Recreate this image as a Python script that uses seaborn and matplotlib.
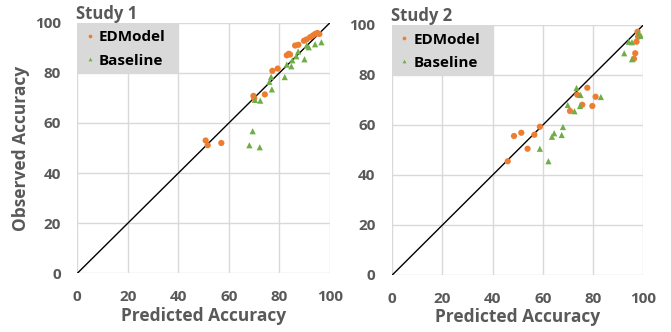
import matplotlib
matplotlib.use("Agg")
import matplotlib.pyplot as plt
import matplotlib.patches as mpatches
import pandas as pd
import seaborn as sns

# Study 1 values
s1_ed_pred = [50.8, 51.6, 57.0, 69.7, 70.0, 74.2, 77.2, 79.3, 82.9, 83.7, 84.2, 86.2, 87.5, 89.7, 90.7, 92.1, 93.2, 94.1, 95.0, 95.8]
s1_ed_obs = [53.0, 51.1, 52.0, 70.8, 69.8, 71.4, 80.8, 81.7, 87.0, 87.6, 87.3, 90.9, 91.2, 92.8, 93.3, 94.2, 94.9, 95.5, 95.9, 95.5]
s1_bl_pred = [69.4, 68.1, 72.2, 70.3, 72.4, 77.0, 76.0, 76.7, 82.1, 82.9, 84.7, 85.1, 86.7, 87.4, 89.9, 90.8, 91.6, 94.1, 96.6]
s1_bl_obs = [56.7, 51.1, 50.3, 69.2, 68.9, 73.4, 76.4, 78.4, 78.3, 83.3, 82.6, 85.0, 86.6, 88.5, 85.4, 90.9, 90.2, 91.4, 92.2]

# Study 2 values
s2_ed_pred = [46.0, 48.5, 51.4, 53.9, 56.6, 58.8, 70.8, 73.7, 75.7, 77.7, 79.7, 81.0, 96.3, 96.8, 97.3, 97.7, 97.9]
s2_ed_obs = [45.5, 55.6, 56.9, 50.5, 56.1, 59.3, 65.6, 72.1, 68.1, 74.9, 67.6, 71.3, 86.5, 88.7, 93.3, 97.3, 95.3]
s2_bl_pred = [62.2, 58.8, 63.6, 64.5, 67.5, 68.0, 69.9, 72.6, 73.4, 75.0, 74.8, 83.1, 92.4, 94.2, 95.5, 95.5, 98.3, 99.1]
s2_bl_obs = [45.5, 50.5, 55.3, 56.7, 56.0, 59.2, 68.0, 65.5, 74.8, 72.0, 67.6, 71.2, 88.7, 93.3, 93.1, 86.3, 96.7, 95.6]

ticks = [0, 20, 40, 60, 80, 100]
models = ["EDModel", "Baseline"]


def make_df(ed_p, ed_o, bl_p, bl_o):
    a = pd.DataFrame({"Predicted": ed_p, "Observed": ed_o, "Model": "EDModel"})
    b = pd.DataFrame({"Predicted": bl_p, "Observed": bl_o, "Model": "Baseline"})
    return pd.concat([a, b], ignore_index=True)


studies = [("Study 1", make_df(s1_ed_pred, s1_ed_obs, s1_bl_pred, s1_bl_obs)),
           ("Study 2", make_df(s2_ed_pred, s2_ed_obs, s2_bl_pred, s2_bl_obs))]

sns.set_theme(style="white")
plt.rcParams['font.family'] = ['Open Sans', 'DejaVu Sans']
plt.rcParams['font.weight'] = 'bold'

grey = "#595959"
pal = {"EDModel": "#ED7D31", "Baseline": "#70AD47"}
marks = {"EDModel": "o", "Baseline": "^"}

fig = plt.figure(figsize=(6.71, 3.32), dpi=100)
axes = [fig.add_axes([0.1152, 0.1768, 0.3766, 0.7548]),
        fig.add_axes([0.5846, 0.1717, 0.3741, 0.753])]

for ax, (title, df) in zip(axes, studies):
    ax.set_xlim(0, 100)
    ax.set_ylim(0, 100)
    ax.set_xticks(ticks)
    ax.set_yticks(ticks)
    ax.grid(True, color="#d9d9d9", lw=1)
    ax.set_axisbelow(True)
    for sp in ax.spines.values():
        sp.set_visible(False)

    # legend background box
    ax.add_patch(mpatches.Rectangle((0, 0.8), 0.4, 0.2, transform=ax.transAxes,
                                    facecolor="#d9d9d9", edgecolor="none", zorder=1))

    ax.plot([0, 100], [0, 100], color="black", lw=1, zorder=2)

    sns.scatterplot(data=df, x="Predicted", y="Observed", hue="Model", style="Model",
                    hue_order=models, style_order=models, palette=pal, markers=marks,
                    s=20, linewidth=0, ax=ax, zorder=3)

    leg = ax.legend(loc="upper left", bbox_to_anchor=(0.0, 1.0), frameon=False,
                    fontsize=11, handlelength=0.6, handletextpad=0.3,
                    labelspacing=0.6, borderpad=0.5, borderaxespad=0,
                    markerscale=0.6)
    for t in leg.get_texts():
        t.set_color("black")
        t.set_fontweight("bold")

    ax.tick_params(axis="both", length=0, labelsize=11, labelcolor=grey, pad=12)
    for lab in ax.get_xticklabels() + ax.get_yticklabels():
        lab.set_fontweight("bold")

    ax.set_title(title, loc="left", fontsize=12, fontweight="bold", color=grey, pad=3, x=-0.005)
    ax.set_xlabel("Predicted Accuracy", fontsize=12.5, fontweight="bold", color=grey, labelpad=2)
    ax.set_ylabel("")

axes[0].set_ylabel("Observed Accuracy", fontsize=12.5, fontweight="bold", color=grey, labelpad=3)

plt.savefig("out.png", dpi=100)
